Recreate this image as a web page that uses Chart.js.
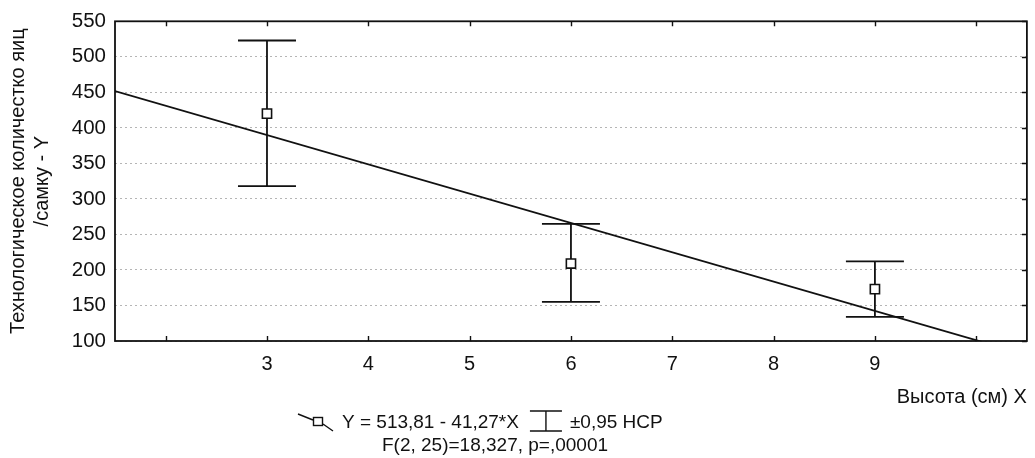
<!DOCTYPE html>
<html>
<head>
<meta charset="utf-8">
<script src="https://cdn.jsdelivr.net/npm/chart.js@4"></script>
<style>
  html, body { margin: 0; padding: 0; background: #fff; }
  #wrap { width: 1035px; height: 458px; position: relative; }
</style>
</head>
<body>
<div id="wrap"><canvas id="chart"></canvas></div>
<script>
// data
const groupX = [3, 6, 9];
const groupMean = [420, 209, 173];
const groupLow = [318, 155, 134];
const groupHigh = [523, 265, 212];

// regression Y = a + b*X
const regA = 513.81;
const regB = -41.27;
const regX = [1.5, 10.5];

const xTicks = [2, 3, 4, 5, 6, 7, 8, 9, 10];
const xLabelled = [3, 4, 5, 6, 7, 8, 9];
const yTicks = [100, 150, 200, 250, 300, 350, 400, 450, 500, 550];

const yTitle = ['Технологическое количестко яиц', '/самку - Y'];
const xTitle = 'Высота (см) X';
const legendLine1 = 'Y = 513,81 - 41,27*X';
const legendLine2 = '±0,95 НСР';
const legendLine3 = 'F(2, 25)=18,327, p=,00001';

const FONT = "'Liberation Sans', Arial, sans-serif";
const INK = '#111';

function $(id) {
  return document.getElementById(id);
}

const regPoints = regX.map((x) => ({ x: x, y: regA + regB * x }));
const meanPoints = groupX.map((x, i) => ({ x: x, y: groupMean[i] }));

const frameAndBars = {
  id: 'frameAndBars',
  beforeDatasetsDraw(chart) {
    const { ctx, scales } = chart;
    const xs = scales.x, ys = scales.y;
    ctx.save();
    ctx.strokeStyle = INK;
    ctx.lineWidth = 1.8;

    // error bars
    const cap = 29;
    groupX.forEach((x, i) => {
      const px = xs.getPixelForValue(x);
      const pLo = ys.getPixelForValue(groupLow[i]);
      const pHi = ys.getPixelForValue(groupHigh[i]);
      ctx.beginPath();
      ctx.moveTo(px, pHi); ctx.lineTo(px, pLo);
      ctx.moveTo(px - cap, pHi); ctx.lineTo(px + cap, pHi);
      ctx.moveTo(px - cap, pLo); ctx.lineTo(px + cap, pLo);
      ctx.stroke();
    });
    ctx.restore();
  },
  afterDraw(chart) {
    const { ctx, chartArea: a, scales } = chart;
    const xs = scales.x, ys = scales.y;
    ctx.save();
    ctx.strokeStyle = INK;
    ctx.lineWidth = 1.8;
    ctx.strokeRect(a.left, a.top, a.right - a.left, a.bottom - a.top);

    // inward tick marks
    ctx.lineWidth = 1.4;
    ctx.beginPath();
    xTicks.forEach((v) => {
      const px = Math.round(xs.getPixelForValue(v)) + 0.5;
      ctx.moveTo(px, a.bottom); ctx.lineTo(px, a.bottom - 5);
      ctx.moveTo(px, a.top); ctx.lineTo(px, a.top + 5);
    });
    yTicks.forEach((v) => {
      const py = Math.round(ys.getPixelForValue(v)) + 0.5;
      ctx.moveTo(a.right, py); ctx.lineTo(a.right - 5, py);
    });
    ctx.stroke();

    // legend block
    ctx.fillStyle = INK;
    ctx.font = '19px ' + FONT;
    ctx.textBaseline = 'middle';
    ctx.textAlign = 'left';
    const ly = 423;
    // regression icon: line through a square
    ctx.lineWidth = 1.4;
    ctx.beginPath();
    ctx.moveTo(298, 414); ctx.lineTo(313, 420);
    ctx.moveTo(323, 424); ctx.lineTo(333, 431);
    ctx.stroke();
    ctx.strokeRect(313.5, 417.5, 9, 8);
    ctx.fillText(legendLine1, 342, ly);
    const w1 = ctx.measureText(legendLine1).width;
    // error bar icon
    const ex = 342 + w1 + 11;
    ctx.beginPath();
    ctx.moveTo(ex, 411); ctx.lineTo(ex + 32, 411);
    ctx.moveTo(ex, 431); ctx.lineTo(ex + 32, 431);
    ctx.moveTo(ex + 16, 411); ctx.lineTo(ex + 16, 431);
    ctx.stroke();
    ctx.fillText(legendLine2, ex + 40, ly);
    ctx.textAlign = 'center';
    ctx.fillText(legendLine3, 495, 446);
    ctx.restore();
  }
};

function buildChart() {
  const el = $('chart');
  return new Chart(el, {
    data: {
      datasets: [
        {
          type: 'line',
          data: regPoints,
          borderColor: INK,
          borderWidth: 1.8,
          pointRadius: 0,
          fill: false,
          tension: 0
        },
        {
          type: 'scatter',
          data: meanPoints,
          pointStyle: 'rect',
          pointRadius: 6.5,
          backgroundColor: '#fff',
          borderColor: INK,
          borderWidth: 1.6
        }
      ]
    },
    options: {
      responsive: true,
      maintainAspectRatio: false,
      animation: false,
      layout: { padding: { left: 0, right: 7, top: 19, bottom: 0 } },
      plugins: { legend: { display: false }, tooltip: { enabled: false } },
      scales: {
        x: {
          type: 'linear',
          min: 1.5,
          max: 10.5,
          afterBuildTicks: (s) => { s.ticks = xTicks.map((v) => ({ value: v })); },
          afterFit: (s) => { s.height = 117; },
          grid: { display: false },
          border: { display: false },
          ticks: {
            color: INK,
            padding: 3,
            font: { family: FONT, size: 20 },
            callback: (v) => (xLabelled.includes(v) ? String(v) : '')
          },
          title: {
            display: true,
            text: xTitle,
            align: 'end',
            color: INK,
            font: { family: FONT, size: 20 },
            padding: { top: 10, bottom: 49 }
          }
        },
        y: {
          min: 100,
          max: 550,
          afterBuildTicks: (s) => { s.ticks = yTicks.map((v) => ({ value: v })); },
          afterFit: (s) => { s.width = 115; },
          grid: { color: '#b5b5b5', lineWidth: 1, drawTicks: false },
          border: { display: false, dash: [2, 3] },
          ticks: {
            color: INK,
            padding: 9,
            font: { family: FONT, size: 20.5 }
          },
          title: {
            display: true,
            text: yTitle,
            color: INK,
            font: { family: FONT, size: 20 },
            padding: { top: 6, bottom: 0 }
          }
        }
      }
    },
    plugins: [frameAndBars]
  });
}

window.onload = buildChart;
</script>
</body>
</html>
